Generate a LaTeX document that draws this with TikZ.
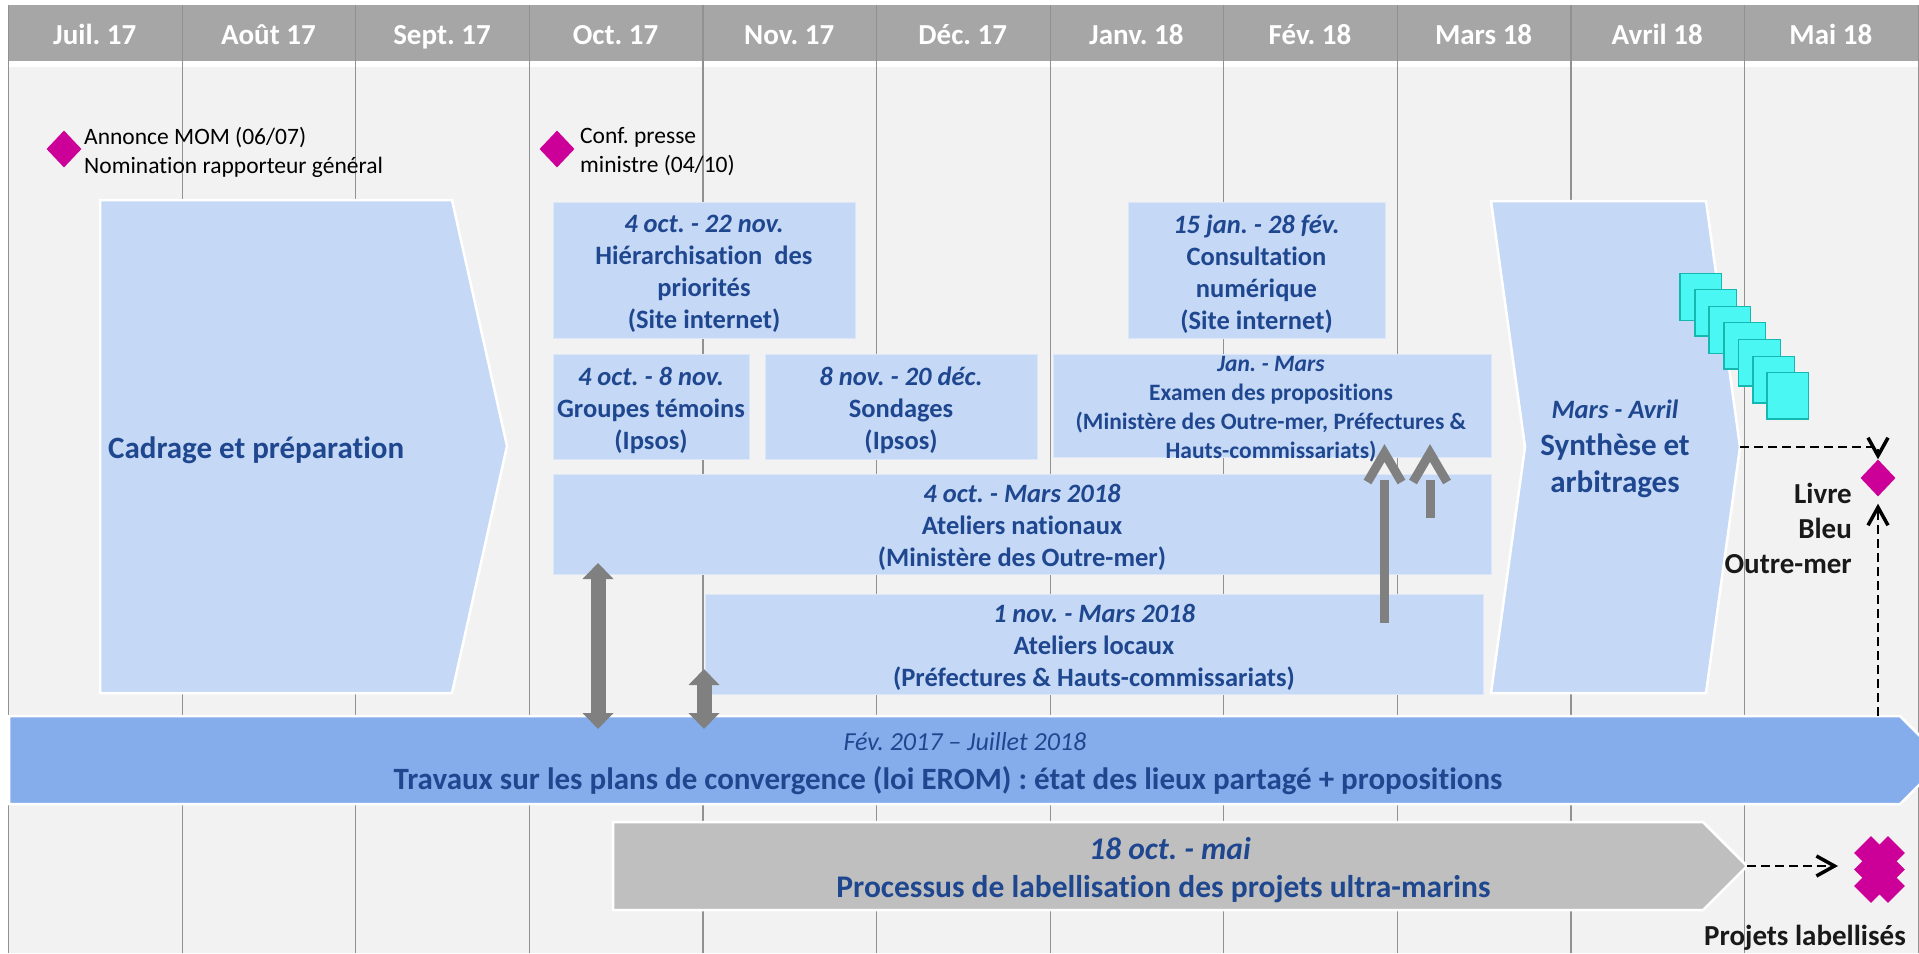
\documentclass[tikz,border=0pt]{standalone}
\usepackage{fontspec}
\setmainfont{Carlito}[Ligatures={TeX,NoCommon}]
\usetikzlibrary{arrows.meta,shapes.geometric}
\definecolor{hdr}{RGB}{166,166,166}
\definecolor{bg}{RGB}{242,242,242}
\definecolor{gridc}{RGB}{145,145,145}
\definecolor{boxblue}{RGB}{197,216,245}
\definecolor{barblue}{RGB}{133,173,235}
\definecolor{bargray}{RGB}{191,191,191}
\definecolor{tblue}{RGB}{31,71,143}
\definecolor{mag}{RGB}{204,0,153}
\definecolor{cyanf}{RGB}{75,247,242}
\definecolor{cyand}{RGB}{20,184,176}
\definecolor{arrgray}{RGB}{128,128,128}
\newcommand\fsz[2]{\fontsize{#1}{#2}\selectfont}
\frenchspacing
\begin{document}
\begin{tikzpicture}[x=1pt,y=-1pt,
  month/.style={text=white,font=\bfseries\fsz{29}{34},anchor=base,inner sep=0pt},
  bx/.style={fill=boxblue,draw=white!40!boxblue,line width=1pt,anchor=north west,inner sep=0pt},
  txt/.style={text=tblue,font=\bfseries\fsz{26.5}{32},align=center,inner sep=0pt},
  small/.style={text=tblue,font=\bfseries\fsz{23.5}{29},align=center,inner sep=0pt},
  note/.style={text=black,font=\fsz{23.5}{29},align=left,anchor=west,inner sep=0pt},
  lbl/.style={text=black!90,font=\bfseries\fsz{29}{35},inner sep=0pt},
  chev/.style={draw=white,line width=2.5pt,line join=miter},
  dia/.style={diamond,fill=mag,inner sep=0pt,minimum width=35pt,minimum height=37pt},
  pdia/.style={diamond,fill=mag,inner sep=0pt,minimum width=34pt,minimum height=34pt},
  dbl/.style={draw=arrgray,line width=15pt,{Triangle[width=30pt,length=16pt]}-{Triangle[width=30pt,length=16pt]}},
  up/.style={draw=arrgray,line width=9pt},
  vhead/.style={draw=arrgray,line width=9pt,line join=miter},
  conn/.style={draw=black,line width=1.4pt,dash pattern=on 9pt off 5pt,-{Straight Barb[length=18pt,width=20pt,line width=3.5pt]}},
  sheet/.style={fill=cyanf,draw=cyand,line width=1.2pt}]
\useasboundingbox (0,0) rectangle (1919,953);
\clip (0,0) rectangle (1919,953);
% background and header
\fill[white] (0,0) rectangle (1919,953);
\fill[hdr] (8,5) rectangle (1919,61);
\fill[bg] (8,67) rectangle (1919,953);
\foreach \i in {0,...,10} \draw[gridc,line width=1.2pt] ({8.5+173.6*\i},5) -- ({8.5+173.6*\i},953);
\draw[gridc,line width=1.2pt] (1918.5,5) -- (1918.5,953);
\foreach \m [count=\i from 0] in {Juil. 17,Août 17,Sept. 17,Oct. 17,Nov. 17,Déc. 17,Janv. 18,Fév. 18,Mars 18,Avril 18,Mai 18}
  \node[month] (m\i) at ({8+86.8+173.6*\i},44) {\m};
% milestones top
\node[dia] (d1) at (64,149) {};
\node[note] (annonce) at (84,152) {Annonce MOM (06/07)\\Nomination rapporteur général};
\node[dia] (d2) at (557,149) {};
\node[note] (conf) at (580,152) {Conf. presse\\ministre (04/10)};
% Cadrage chevron
\draw[chev,fill=boxblue] (100,200) -- (452,200) -- (507,446) -- (452,693) -- (100,693) -- cycle;
\node[text=tblue,font=\bfseries\fsz{31}{36},anchor=base west,inner sep=0pt] (cadrage) at (108,458.3) {Cadrage et préparation};
% boxes
\node[bx,minimum width=302pt,minimum height=136pt] (hierbox) at (553,202) {};
\node[txt] (hier) at (704,274) {\textit{4 oct. - 22 nov.}\\Hiérarchisation\ \ des\\priorités\\(Site internet)};
\node[bx,minimum width=257pt,minimum height=136pt] (consbox) at (1128,202) {};
\node[txt] (cons) at (1256.5,274) {\textit{15 jan. - 28 fév.}\\Consultation\\numérique\\(Site internet)};
\node[bx,minimum width=196pt,minimum height=105pt] (grbox) at (553,354) {};
\node[txt] (gr) at (651,410) {\textit{4 oct. - 8 nov.}\\Groupes témoins\\(Ipsos)};
\node[bx,minimum width=272pt,minimum height=105pt] (sobox) at (765,354) {};
\node[txt] (so) at (901,410) {\textit{8 nov. - 20 déc.}\\Sondages\\(Ipsos)};
\node[bx,minimum width=438pt,minimum height=103pt] (jmbox) at (1053,354) {};
\node[small] (jm) at (1271,409) {\textit{Jan. - Mars}\\Examen des propositions\\(Ministère des Outre-mer, Préfectures \&\\Hauts-commissariats)};
\node[bx,minimum width=938pt,minimum height=100pt] (natbox) at (553,474) {};
\node[txt] (nat) at (1022,527.5) {\textit{4 oct. - Mars 2018}\\Ateliers nationaux\\(Ministère des Outre-mer)};
\node[bx,minimum width=778pt,minimum height=100pt] (locbox) at (705,594) {};
\node[txt] (loc) at (1094,647) {\textit{1 nov. - Mars 2018}\\Ateliers locaux\\(Préfectures \& Hauts-commissariats)};
% Synthese chevron
\draw[chev,fill=boxblue] (1491,201) -- (1706,201) -- (1740,447) -- (1706,693) -- (1491,693) -- (1525,447) -- cycle;
\coordinate (synthtip) at (1740,447);
\node[text=tblue,font=\bfseries\fsz{31}{37},align=center,inner sep=0pt] (synth) at (1615,449) {{\itshape\fsz{26.5}{37}Mars - Avril}\\Synthèse et\\arbitrages};
% cyan sheets
\foreach \x/\y in {1680/273.7,1695/289.3,1709/306.7,1724/322.3,1738.6/339.3,1753/356.3,1767/372.3}
  \draw[sheet] (\x,\y) rectangle ++(41.6,46.7);
% main bar
\draw[chev,fill=barblue] (9,716) -- (1900,716) -- (1944,760) -- (1900,804) -- (9,804) -- cycle;
\coordinate (barpt) at (1878,716);
\node[text=tblue,font=\itshape\fsz{26}{30},anchor=base,inner sep=0pt] (barit) at (965,750.7) {Fév. 2017 – Juillet 2018};
\node[text=tblue,font=\bfseries\fsz{31}{36},anchor=base,inner sep=0pt] (bartxt) at (948,789.3) {Travaux sur les plans de convergence (loi EROM) : état des lieux partagé + propositions};
% gray bar
\draw[chev,fill=bargray] (613,822) -- (1703,822) -- (1747,866) -- (1703,910) -- (613,910) -- cycle;
\coordinate (graytip) at (1747,866);
\node[text=tblue,font=\bfseries\itshape\fsz{31.5}{36},anchor=base,inner sep=0pt] (grit) at (1170,859.3) {18 oct. - mai};
\node[text=tblue,font=\bfseries\fsz{31.5}{36},anchor=base,inner sep=0pt] (grtxt) at (1163.5,897.3) {Processus de labellisation des projets ultra-marins};
% gray arrows
\coordinate (d1t) at (598,563); \coordinate (d1b) at (598,729);
\draw[dbl] (d1b) -- (d1t);
\coordinate (d2t) at (704,669); \coordinate (d2b) at (704,729);
\draw[dbl] (d2b) -- (d2t);
\coordinate (u1s) at (1384.5,623); \coordinate (u1b) at (1384.5,480);
\coordinate (u1a) at (1384.5,453); \coordinate (u1l) at (1367.5,482); \coordinate (u1r) at (1401.5,482);
\draw[up] (u1s) -- (u1b);
\draw[vhead] (u1l) -- (u1a) -- (u1r);
\coordinate (u2s) at (1430,518); \coordinate (u2b) at (1430,480);
\coordinate (u2a) at (1430,453); \coordinate (u2l) at (1413,482); \coordinate (u2r) at (1447,482);
\draw[up] (u2s) -- (u2b);
\draw[vhead] (u2l) -- (u2a) -- (u2r);
% Livre bleu
\node[dia] (livre) at (1878,478) {};
\draw[conn] (synthtip) -| (livre.north);
\draw[conn,shorten >=7pt] (barpt) -- (livre.south);
\node[lbl,align=right,anchor=east] (livrelbl) at (1852,528) {Livre\\Bleu\\Outre-mer};
% Projets labellises
\foreach \cx/\cy [count=\k] in {1871/853,1888/853,1871/869.5,1888/869.5,1871/886,1888/886}
  \node[pdia] (p\k) at (\cx,\cy) {};
\coordinate (projin) at (1838,866);
\draw[conn] (graytip) -- (projin);
\node[lbl,anchor=base east] (projlbl) at (1906,945) {Projets labellisés};
\end{tikzpicture}
\end{document}
